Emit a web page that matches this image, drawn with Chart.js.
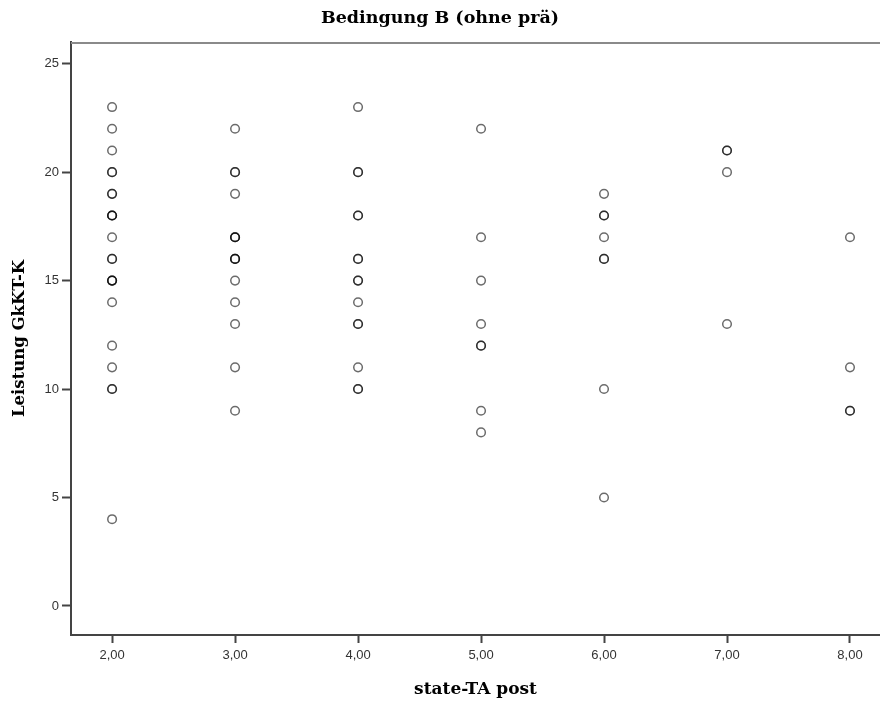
<!DOCTYPE html>
<html lang="de">
<head>
    <meta charset="UTF-8">
    <title>Bedingung B (ohne prä)</title>
    <style>
        body {
            margin: 0;
            padding: 0;
            background-color: white;
        }
        #wrap {
            width: 880px;
            height: 704px;
        }
    </style>
</head>
<body>
    <div id="wrap"><canvas id="scatterChart" width="880" height="704"></canvas></div>

    <script src="https://cdn.jsdelivr.net/npm/chart.js"></script>
    <script>
        // state-TA post (x) and Leistung GkKT-K (y); repeated pairs are overlapping cases
        const stateTA = [
            2, 2, 2, 2, 2, 2, 2, 2, 2, 2, 2, 2, 2, 2, 2, 2, 2, 2, 2, 2, 2, 2,
            3, 3, 3, 3, 3, 3, 3, 3, 3, 3, 3, 3, 3, 3, 3,
            4, 4, 4, 4, 4, 4, 4, 4, 4, 4, 4, 4, 4, 4, 4,
            5, 5, 5, 5, 5, 5, 5, 5,
            6, 6, 6, 6, 6, 6, 6, 6,
            7, 7, 7, 7,
            8, 8, 8, 8
        ];
        const leistung = [
            23, 22, 21, 20, 20, 19, 19, 18, 18, 18, 17, 16, 16, 15, 15, 15, 14, 12, 11, 10, 10, 4,
            22, 20, 20, 19, 17, 17, 17, 16, 16, 16, 15, 14, 13, 11, 9,
            23, 20, 20, 18, 18, 16, 16, 15, 15, 14, 13, 13, 11, 10, 10,
            22, 17, 15, 13, 12, 12, 9, 8,
            19, 18, 18, 17, 16, 16, 10, 5,
            21, 21, 20, 13,
            17, 11, 9, 9
        ];
        const xTicks = [2, 3, 4, 5, 6, 7, 8];
        const yTicks = [0, 5, 10, 15, 20, 25];

        const points = stateTA.map((x, i) => ({ x: x, y: leistung[i] }));

        // Grey frame line along the top of the plot area (SPSS style)
        const topFrame = {
            id: 'topFrame',
            afterDraw(chart) {
                const { ctx, chartArea } = chart;
                ctx.save();
                ctx.strokeStyle = '#8a8a8a';
                ctx.lineWidth = 2;
                ctx.beginPath();
                ctx.moveTo(chartArea.left, chartArea.top + 1);
                ctx.lineTo(chartArea.right, chartArea.top + 1);
                ctx.stroke();
                ctx.restore();
            }
        };

        const tickFont = { family: '"Liberation Sans", Arial, sans-serif', size: 13 };
        const titleFamily = '"DejaVu Serif", serif';

        new Chart(document.getElementById('scatterChart'), {
            type: 'scatter',
            data: {
                datasets: [{
                    label: 'Leistung GkKT-K',
                    data: points,
                    pointStyle: 'circle',
                    pointRadius: 4.3,
                    pointHoverRadius: 4.3,
                    borderWidth: 1.5,
                    borderColor: 'rgba(0, 0, 0, 0.58)',
                    backgroundColor: 'rgba(0, 0, 0, 0)'
                }]
            },
            options: {
                responsive: false,
                animation: false,
                events: [],
                layout: { padding: 0, autoPadding: false },
                plugins: {
                    legend: { display: false },
                    tooltip: { enabled: false },
                    title: {
                        display: true,
                        text: 'Bedingung B (ohne prä)',
                        color: '#000',
                        font: { family: titleFamily, size: 17.5, weight: 'bold' },
                        padding: { top: 8, bottom: 13 }
                    }
                },
                scales: {
                    x: {
                        type: 'linear',
                        min: 1.666,
                        max: 8.244,
                        afterBuildTicks: (scale) => { scale.ticks = xTicks.map(v => ({ value: v })); },
                        afterFit: (scale) => {
                            scale.height = 69;
                            scale.paddingLeft = 0;
                            scale.paddingRight = 0;
                        },
                        ticks: {
                            color: '#333',
                            font: tickFont,
                            padding: 5,
                            maxRotation: 0,
                            callback: (v) => v.toFixed(2).replace('.', ',')
                        },
                        grid: {
                            drawOnChartArea: false,
                            drawTicks: true,
                            tickLength: 8,
                            tickWidth: 2,
                            tickColor: '#444'
                        },
                        border: { display: true, color: '#444', width: 2 },
                        title: {
                            display: true,
                            text: 'state-TA post',
                            color: '#000',
                            font: { family: titleFamily, size: 17, weight: 'bold' },
                            padding: { top: 0, bottom: 4 }
                        }
                    },
                    y: {
                        type: 'linear',
                        min: -1.34,
                        max: 26.0,
                        afterBuildTicks: (scale) => { scale.ticks = yTicks.map(v => ({ value: v })); },
                        afterFit: (scale) => {
                            scale.width = 71;
                            scale.paddingTop = 0;
                            scale.paddingBottom = 0;
                        },
                        ticks: {
                            color: '#333',
                            font: tickFont,
                            padding: 3
                        },
                        grid: {
                            drawOnChartArea: false,
                            drawTicks: true,
                            tickLength: 9,
                            tickWidth: 2,
                            tickColor: '#444'
                        },
                        border: { display: true, color: '#444', width: 2 },
                        title: {
                            display: true,
                            text: 'Leistung GkKT-K',
                            color: '#000',
                            font: { family: titleFamily, size: 16.5, weight: 'bold' },
                            padding: { top: 10, bottom: 0 }
                        }
                    }
                }
            },
            plugins: [topFrame]
        });
    </script>
</body>
</html>
